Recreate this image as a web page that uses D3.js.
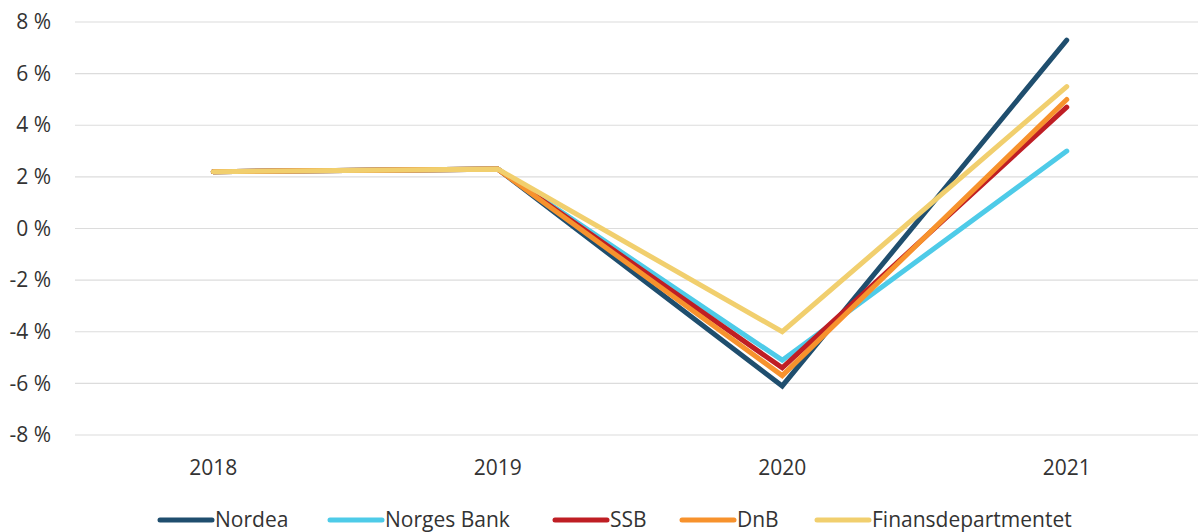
<!DOCTYPE html>
<html>
<head>
<meta charset="utf-8">
<script src="https://cdn.jsdelivr.net/npm/d3@7"></script>
<style>
  html, body { margin: 0; padding: 0; background: #fff; }
  svg { display: block; font-family: "Open Sans", sans-serif; }
</style>
</head>
<body>
<svg id="chart" width="1198" height="532"></svg>
<script>
const years = ["2018", "2019", "2020", "2021"];
const seriesNames = ["Nordea", "Norges Bank", "SSB", "DnB", "Finansdepartmentet"];
const nordea = [2.2, 2.3, -6.1, 7.3];
const norgesBank = [2.2, 2.3, -5.1, 3.0];
const ssb = [2.2, 2.3, -5.4, 4.7];
const dnb = [2.2, 2.3, -5.7, 5.0];
const finans = [2.2, 2.3, -4.0, 5.5];
const seriesColors = ["#1f4e6e", "#4ecbe8", "#bf1e24", "#f7922d", "#f1cf6e"];
const yTicks = [8, 6, 4, 2, 0, -2, -4, -6, -8];

const seriesValues = [nordea, norgesBank, ssb, dnb, finans];

const svg = d3.select("#chart");
const x = d3.scaleBand().domain(years).range([71, 1209]);
const y = d3.scaleLinear().domain([-8, 8]).range([435, 22]);

// gridlines
svg.append("g").selectAll("line").data(yTicks).join("line")
  .attr("x1", 75).attr("x2", 1198)
  .attr("y1", d => y(d)).attr("y2", d => y(d))
  .attr("stroke", "#dcdcdc").attr("stroke-width", 1.2);

// y axis labels
const yAxis = d3.axisLeft(y).tickValues(yTicks).tickSize(0).tickPadding(0)
  .tickFormat(d => d + " %");
const gy = svg.append("g").attr("transform", "translate(51,0)").call(yAxis);
gy.select(".domain").remove();
gy.selectAll("text").attr("font-size", 21).attr("fill", "#333")
  .attr("font-family", "Open Sans, sans-serif");

// x axis labels
const xAxis = d3.axisBottom(x).tickSize(0).tickPadding(0);
const gx = svg.append("g").attr("transform", "translate(0,460)").call(xAxis);
gx.select(".domain").remove();
gx.selectAll("text").attr("font-size", 21).attr("fill", "#333")
  .attr("font-family", "Open Sans, sans-serif");

// lines
const line = d3.line()
  .x((d, i) => x(years[i]) + x.bandwidth() / 2)
  .y(d => y(d));

svg.append("g").selectAll("path").data(seriesValues).join("path")
  .attr("d", d => line(d))
  .attr("fill", "none")
  .attr("stroke", (d, i) => seriesColors[i])
  .attr("stroke-width", 5)
  .attr("stroke-linecap", "round")
  .attr("stroke-linejoin", "miter");

// legend
const legendX = [158, 328, 553, 680, 815];
const lg = svg.append("g").attr("transform", "translate(0,520)");
const items = lg.selectAll("g").data(seriesNames).join("g")
  .attr("transform", (d, i) => `translate(${legendX[i]},0)`);
items.append("line")
  .attr("x1", 2).attr("x2", 54).attr("y1", 0).attr("y2", 0)
  .attr("stroke", (d, i) => seriesColors[i])
  .attr("stroke-width", 5).attr("stroke-linecap", "round");
items.append("text")
  .attr("x", 57).attr("y", 0).attr("dy", "0.35em")
  .attr("font-size", 21).attr("fill", "#333")
  .text(d => d);
</script>
</body>
</html>
